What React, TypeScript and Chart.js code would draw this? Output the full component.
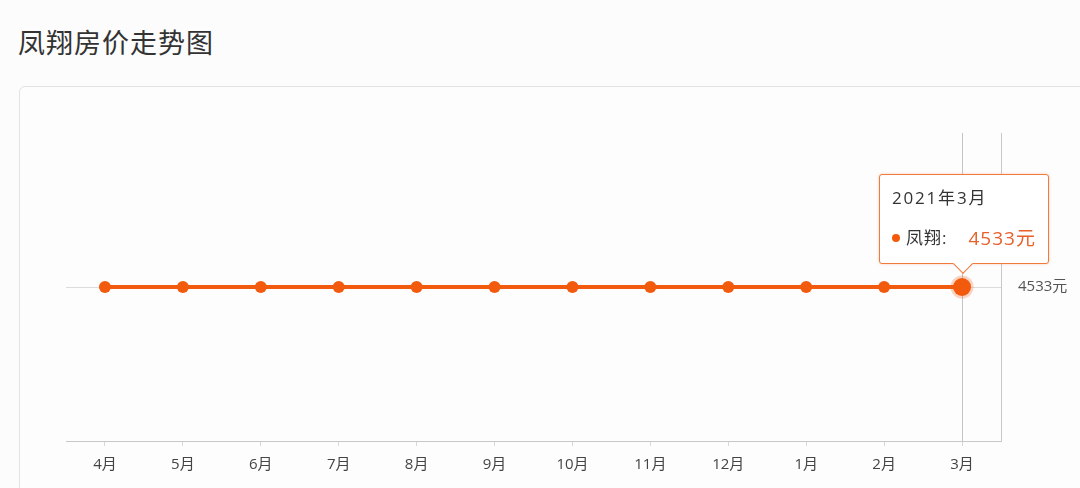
import React, { useEffect, useRef } from "react";
import { Chart, registerables } from "chart.js";
Chart.register(...registerables);

// data
const months = ["4月", "5月", "6月", "7月", "8月", "9月", "10月", "11月", "12月", "1月", "2月", "3月"];
const periods = [
  "2020年4月", "2020年5月", "2020年6月", "2020年7月", "2020年8月", "2020年9月",
  "2020年10月", "2020年11月", "2020年12月", "2021年1月", "2021年2月", "2021年3月",
];
const prices = [4533, 4533, 4533, 4533, 4533, 4533, 4533, 4533, 4533, 4533, 4533, 4533];
const yTicks = [4533];
const seriesName = "凤翔";
const activeIndex = 11;

const ORANGE = "#f25a0e";
const FONT = "'Open Sans', 'Noto Sans CJK SC', sans-serif";

export default function App() {
  const canvasRef = useRef<HTMLCanvasElement>(null);
  const chartRef = useRef<Chart | null>(null);
  const tipRef = useRef<HTMLDivElement>(null);

  useEffect(() => {
    if (!canvasRef.current) return;
    if (chartRef.current) chartRef.current.destroy();
    const ctx = canvasRef.current.getContext("2d");
    if (!ctx) return;

    // vertical crosshair at the active month
    const crosshair = {
      id: "crosshair",
      beforeDatasetsDraw(chart: any) {
        const { ctx, chartArea, scales } = chart;
        const x = scales.x.getPixelForValue(activeIndex);
        ctx.save();
        ctx.strokeStyle = "#c4c4c4";
        ctx.lineWidth = 1;
        ctx.beginPath();
        ctx.moveTo(Math.round(x) + 0.5, chartArea.top);
        ctx.lineTo(Math.round(x) + 0.5, chartArea.bottom);
        ctx.stroke();
        ctx.restore();
      },
    };

    chartRef.current = new Chart(ctx, {
      type: "line",
      data: {
        labels: months,
        datasets: [
          {
            label: seriesName,
            data: prices,
            borderColor: ORANGE,
            backgroundColor: ORANGE,
            borderWidth: 4,
            pointRadius: 6,
            pointBackgroundColor: ORANGE,
            pointBorderWidth: 0,
            pointHoverRadius: 9,
            pointHoverBackgroundColor: ORANGE,
            pointHoverBorderColor: "rgba(242,90,14,0.25)",
            pointHoverBorderWidth: 5,
            tension: 0,
          },
        ],
      },
      options: {
        responsive: false,
        animation: false,
        events: [],
        layout: { padding: { left: 66, top: 133, right: 0, bottom: 0 } },
        plugins: {
          legend: { display: false },
          tooltip: {
            enabled: false,
            external: ({ tooltip }: any) => {
              const el = tipRef.current;
              if (!el) return;
              if (tooltip.opacity === 0) {
                el.style.display = "none";
                return;
              }
              el.style.display = "block";
              el.style.left = tooltip.caretX - 83 + "px";
              el.style.top = tooltip.caretY - 113 + "px";
            },
          },
        },
        scales: {
          x: {
            type: "category",
            offset: true,
            afterFit: (s: any) => {
              s.height = 47;
            },
            border: { display: true, color: "#c8c8c8", width: 1 },
            grid: { drawOnChartArea: false, drawTicks: true, tickLength: 5, color: "#d8d8d8" },
            ticks: { color: "#444", padding: 10, font: { family: FONT, size: 15 } },
          },
          y: {
            position: "right",
            min: 3533,
            max: 5533,
            afterBuildTicks: (s: any) => {
              s.ticks = yTicks.map((v) => ({ value: v }));
            },
            afterFit: (s: any) => {
              s.width = 79;
            },
            border: { display: true, color: "#c8c8c8", width: 1 },
            grid: { drawTicks: false, color: "#dcdcdc" },
            ticks: {
              color: "#555",
              padding: 17,
              font: { family: FONT, size: 15 },
              callback: (v: any) => v + "元",
            },
          },
        },
      },
      plugins: [crosshair],
    } as any);

    const chart = chartRef.current;
    const meta = chart.getDatasetMeta(0);
    const pt = meta.data[activeIndex] as any;
    chart.setActiveElements([{ datasetIndex: 0, index: activeIndex }]);
    chart.tooltip?.setActiveElements([{ datasetIndex: 0, index: activeIndex }], { x: pt.x, y: pt.y });
    chart.update();

    return () => {
      if (chartRef.current) {
        chartRef.current.destroy();
        chartRef.current = null;
      }
    };
  }, []);

  return (
    <div
      style={{
        position: "fixed",
        left: 0,
        top: 0,
        width: 1080,
        height: 488,
        overflow: "hidden",
        background: "#fcfcfd",
        fontFamily: FONT,
      }}
    >
      <div
        style={{
          position: "absolute",
          left: 18,
          top: 22,
          fontSize: 27,
          lineHeight: "40px",
          color: "#333",
          letterSpacing: 1,
          fontFamily: "'Noto Sans CJK SC', sans-serif",
        }}
      >
        凤翔房价走势图
      </div>
      <div
        style={{
          position: "absolute",
          left: 19,
          top: 86,
          width: 1100,
          height: 500,
          border: "1.5px solid #e2e2e4",
          borderRadius: 6,
          background: "#fdfdfe",
        }}
      />
      <canvas
        ref={canvasRef}
        width={1080}
        height={488}
        style={{ position: "absolute", left: 0, top: 0, width: 1080, height: 488 }}
      />
      <div
        ref={tipRef}
        style={{
          position: "absolute",
          display: "none",
          width: 168,
          height: 88,
          background: "#fff",
          border: "1px solid #ef7a3c",
          borderRadius: 3,
          boxShadow: "0 0 3px rgba(239,122,60,0.35)",
          boxSizing: "content-box",
        }}
      >
        <div
          style={{
            position: "absolute",
            left: 12,
            top: 11,
            fontSize: 17,
            color: "#333",
            lineHeight: "24px",
            whiteSpace: "nowrap",
            letterSpacing: 1.8,
          }}
        >
          {periods[activeIndex]}
        </div>
        <div
          style={{
            position: "absolute",
            left: 12,
            top: 49,
            display: "flex",
            alignItems: "center",
            lineHeight: "28px",
            whiteSpace: "nowrap",
          }}
        >
          <span
            style={{ width: 8, height: 8, borderRadius: 4, background: ORANGE, display: "inline-block", marginRight: 6 }}
          />
          <span style={{ fontSize: 17, color: "#333", letterSpacing: 1 }}>{seriesName}:</span>
          <span style={{ fontSize: 19, color: "#e8602c", marginLeft: 21, letterSpacing: 1 }}>
            {prices[activeIndex]}元
          </span>
        </div>
        <div
          style={{
            position: "absolute",
            left: 76,
            bottom: -8,
            width: 13,
            height: 13,
            background: "#fff",
            borderRight: "1px solid #ef7a3c",
            borderBottom: "1px solid #ef7a3c",
            transform: "rotate(45deg)",
          }}
        />
      </div>
    </div>
  );
}
